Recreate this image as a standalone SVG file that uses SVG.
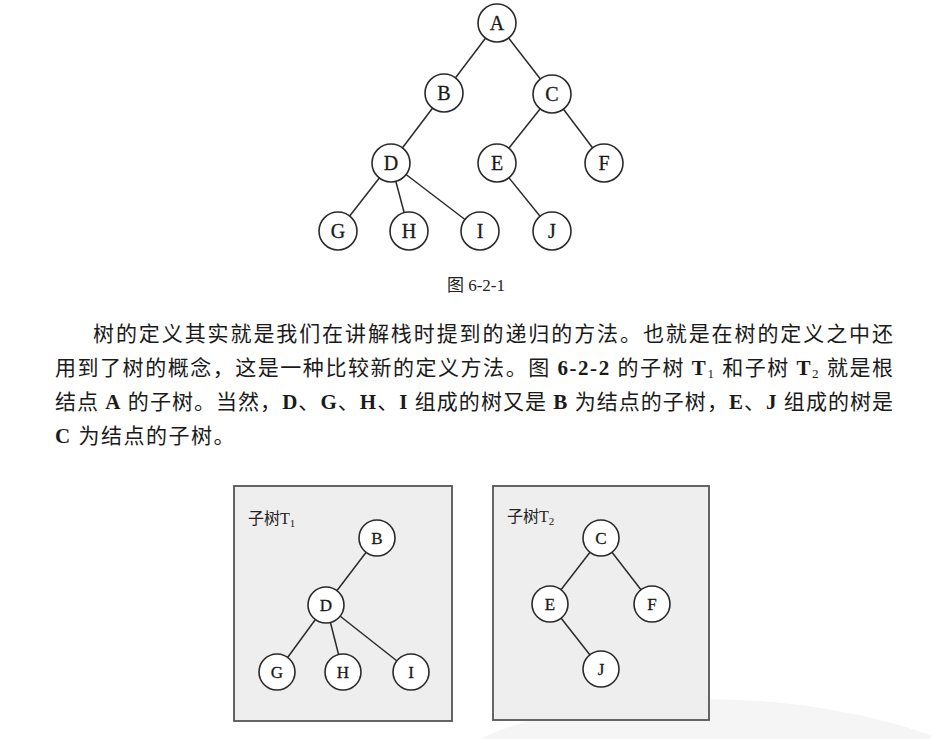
<svg xmlns="http://www.w3.org/2000/svg" width="931" height="739" viewBox="0 0 931 739">
<style>
.edge{stroke:#2a2a2a;stroke-width:1.5;fill:none}
.node{fill:#fff;stroke:#2a2a2a;stroke-width:1.6}
.lbl{font-family:"Liberation Serif","DejaVu Serif",serif;font-size:20px;fill:#1a1a1a;text-anchor:middle;dominant-baseline:central;stroke:#1a1a1a;stroke-width:0.3}
.lbs{font-family:"Liberation Serif","DejaVu Serif",serif;font-size:17px;fill:#1a1a1a;text-anchor:middle;dominant-baseline:central;stroke:#1a1a1a;stroke-width:0.3}
.para{font-family:"Liberation Serif","Noto Sans CJK SC",serif;font-size:21px;fill:#1a1a1a}
.lat{font-weight:bold}
.cap{font-family:"Liberation Serif","Noto Sans CJK SC",serif;font-size:17px;fill:#222}
.box{fill:#eeeeee;stroke:#555;stroke-width:1.8}
.title{font-family:"Liberation Serif","Noto Sans CJK SC",serif;font-size:16px;fill:#222}
</style>
<rect width="931" height="739" fill="#fff"/>
<path d="M480,739 C560,700 700,692 800,705 C860,713 900,725 931,735 L931,739 Z" fill="#f5f5f5"/>

<g id="connectors">
  <line class="edge" x1="497" y1="23" x2="444" y2="93"/>
  <line class="edge" x1="497" y1="23" x2="552" y2="94"/>
  <line class="edge" x1="444" y1="93" x2="391" y2="163"/>
  <line class="edge" x1="552" y1="94" x2="497" y2="163"/>
  <line class="edge" x1="552" y1="94" x2="604" y2="163"/>
  <line class="edge" x1="391" y1="163" x2="338" y2="231"/>
  <line class="edge" x1="391" y1="163" x2="409" y2="231"/>
  <line class="edge" x1="391" y1="163" x2="480" y2="231"/>
  <line class="edge" x1="497" y1="163" x2="552" y2="231"/>
</g>

<g id="tree1">
  <g id="nA"><circle class="node" cx="497" cy="23" r="19"/><text class="lbl" x="497" y="23">A</text></g>
  <g id="nB"><circle class="node" cx="444" cy="93" r="19"/><text class="lbl" x="444" y="93">B</text></g>
  <g id="nC"><circle class="node" cx="552" cy="94" r="19"/><text class="lbl" x="552" y="94">C</text></g>
  <g id="nD"><circle class="node" cx="391" cy="163" r="19"/><text class="lbl" x="391" y="163">D</text></g>
  <g id="nE"><circle class="node" cx="497" cy="163" r="19"/><text class="lbl" x="497" y="163">E</text></g>
  <g id="nF"><circle class="node" cx="604" cy="163" r="19"/><text class="lbl" x="604" y="163">F</text></g>
  <g id="nG"><circle class="node" cx="338" cy="231" r="19"/><text class="lbl" x="338" y="231">G</text></g>
  <g id="nH"><circle class="node" cx="409" cy="231" r="19"/><text class="lbl" x="409" y="231">H</text></g>
  <g id="nI"><circle class="node" cx="480" cy="231" r="19"/><text class="lbl" x="480" y="231">I</text></g>
  <g id="nJ"><circle class="node" cx="552" cy="231" r="19"/><text class="lbl" x="552" y="231">J</text></g>
</g>

<text class="cap" x="476" y="291" text-anchor="middle">图 6-2-1</text>

<g id="paragraph">
  <text class="para" x="93" y="341" textLength="800" lengthAdjust="spacing">树的定义其实就是我们在讲解栈时提到的递归的方法。也就是在树的定义之中还</text>
  <text class="para" x="55" y="375" textLength="838" lengthAdjust="spacing">用到了树的概念，这是一种比较新的定义方法。图 <tspan class="lat">6-2-2</tspan> 的子树 <tspan class="lat">T</tspan><tspan font-size="13" dy="3">1</tspan><tspan dy="-3"> 和子树 </tspan><tspan class="lat">T</tspan><tspan font-size="13" dy="3">2</tspan><tspan dy="-3"> 就是根</tspan></text>
  <text class="para" x="55" y="409" textLength="838" lengthAdjust="spacing">结点 <tspan class="lat">A</tspan> 的子树。当然，<tspan class="lat">D</tspan>、<tspan class="lat">G</tspan>、<tspan class="lat">H</tspan>、<tspan class="lat">I</tspan> 组成的树又是 <tspan class="lat">B</tspan> 为结点的子树，<tspan class="lat">E</tspan>、<tspan class="lat">J</tspan> 组成的树是</text>
  <text class="para" x="55" y="443" letter-spacing="1.5"><tspan class="lat">C</tspan> 为结点的子树。</text>
</g>

<g id="subtree1">
  <rect class="box" x="234" y="486" width="218" height="235"/>
  <text class="title" x="248" y="524">子树T<tspan font-size="11" dy="3">1</tspan></text>
  <g id="connectors-t1">
    <line class="edge" x1="377" y1="538" x2="326" y2="605"/>
    <line class="edge" x1="326" y1="605" x2="277" y2="672"/>
    <line class="edge" x1="326" y1="605" x2="343" y2="672"/>
    <line class="edge" x1="326" y1="605" x2="411" y2="672"/>
  </g>
  <g id="t1B"><circle class="node" cx="377" cy="538" r="18"/><text class="lbs" x="377" y="538">B</text></g>
  <g id="t1D"><circle class="node" cx="326" cy="605" r="18"/><text class="lbs" x="326" y="605">D</text></g>
  <g id="t1G"><circle class="node" cx="277" cy="672" r="18"/><text class="lbs" x="277" y="672">G</text></g>
  <g id="t1H"><circle class="node" cx="343" cy="672" r="18"/><text class="lbs" x="343" y="672">H</text></g>
  <g id="t1I"><circle class="node" cx="411" cy="672" r="18"/><text class="lbs" x="411" y="672">I</text></g>
</g>

<g id="subtree2">
  <rect class="box" x="493" y="486" width="216" height="234"/>
  <text class="title" x="507" y="522">子树T<tspan font-size="11" dy="3">2</tspan></text>
  <g id="connectors-t2">
    <line class="edge" x1="601" y1="538" x2="550" y2="604"/>
    <line class="edge" x1="601" y1="538" x2="652" y2="604"/>
    <line class="edge" x1="550" y1="604" x2="601" y2="669"/>
  </g>
  <g id="t2C"><circle class="node" cx="601" cy="538" r="18"/><text class="lbs" x="601" y="538">C</text></g>
  <g id="t2E"><circle class="node" cx="550" cy="604" r="18"/><text class="lbs" x="550" y="604">E</text></g>
  <g id="t2F"><circle class="node" cx="652" cy="604" r="18"/><text class="lbs" x="652" y="604">F</text></g>
  <g id="t2J"><circle class="node" cx="601" cy="669" r="18"/><text class="lbs" x="601" y="669">J</text></g>
</g>
</svg>
